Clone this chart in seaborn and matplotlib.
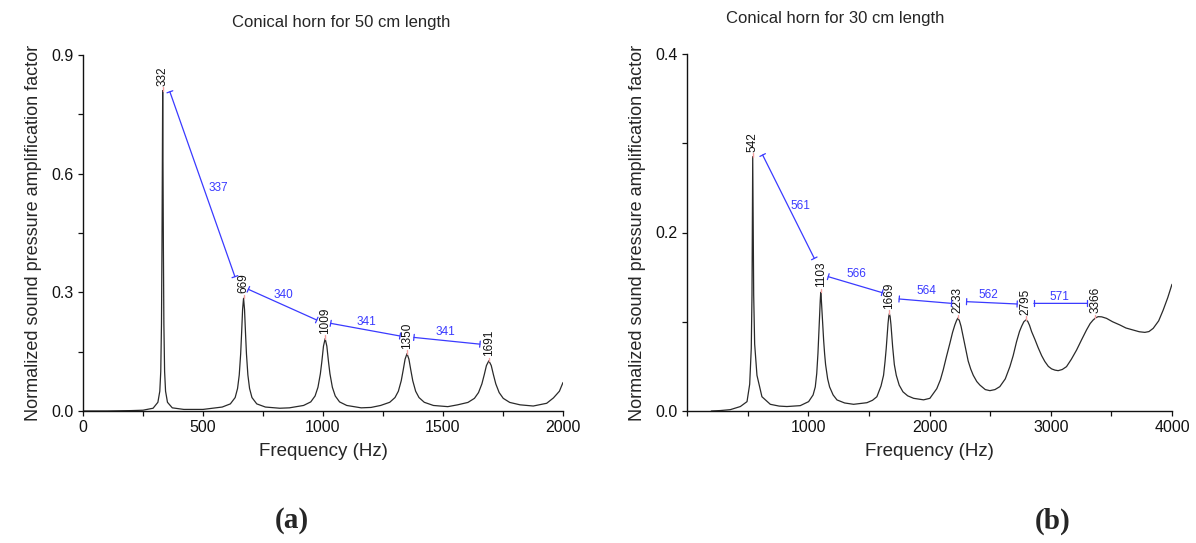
import numpy as np
import matplotlib
matplotlib.use("Agg")
import matplotlib.pyplot as plt
import seaborn as sns
import pandas as pd

# ---------------- data ----------------
# (a) conical horn 50 cm
freq_a = [0, 100, 200, 250, 292, 312, 320, 324, 327, 329, 330.5, 332, 333.5, 335, 337, 340, 344, 352,
          372, 420, 500, 580, 614, 634, 644, 651, 657, 661, 665, 669, 673, 677, 681, 687, 694, 704,
          724, 760, 820, 860, 919, 949, 967, 979, 989, 995, 1002, 1009, 1016, 1023, 1029, 1039, 1051,
          1069, 1099, 1159, 1200, 1240, 1278, 1300, 1314, 1326, 1334, 1342, 1350, 1358, 1366, 1374,
          1386, 1400, 1422, 1460, 1520, 1561, 1604, 1631, 1648, 1662, 1672, 1681, 1691, 1701, 1710,
          1720, 1734, 1751, 1778, 1821, 1876, 1932, 1960, 1985, 2000]
amp_a = [0.0, 0.0, 0.001, 0.002, 0.007, 0.022, 0.05, 0.10, 0.22, 0.41, 0.60, 0.81, 0.60, 0.41, 0.22, 0.10,
         0.05, 0.022, 0.008, 0.004, 0.004, 0.010, 0.018, 0.034, 0.057, 0.091, 0.145, 0.199, 0.257, 0.285,
         0.257, 0.199, 0.145, 0.091, 0.057, 0.034, 0.018, 0.010, 0.007, 0.008, 0.014, 0.023, 0.038, 0.060,
         0.094, 0.124, 0.164, 0.183, 0.164, 0.124, 0.094, 0.060, 0.038, 0.023, 0.014, 0.008, 0.009, 0.014,
         0.022, 0.034, 0.050, 0.0765, 0.103, 0.131, 0.145, 0.131, 0.103, 0.0765, 0.050, 0.034, 0.022,
         0.014, 0.011, 0.0156, 0.0217, 0.032, 0.0466, 0.0685, 0.092, 0.115, 0.127, 0.115, 0.092, 0.0685,
         0.0466, 0.032, 0.0217, 0.0156, 0.0126, 0.0195, 0.033, 0.050, 0.072]

peaks_a = [332, 669, 1009, 1350, 1691]
peak_amp_a = [0.81, 0.285, 0.183, 0.145, 0.127]
gaps_a = ["337", "340", "341", "341"]
gap_start_a = [(362, 0.807), (689, 0.3076), (1032, 0.2216), (1379, 0.186)]
gap_end_a = [(633, 0.3396), (974, 0.230), (1321, 0.1896), (1654, 0.169)]
gap_label_a = [(562, 0.564), (835, 0.293), (1182, 0.2258), (1508, 0.200)]

# (b) conical horn 30 cm
freq_b = [200, 275, 357, 440, 495, 517, 530, 536, 540, 542, 545, 550, 558, 577, 618, 687, 760, 824, 934,
          1003, 1040, 1058, 1070, 1080, 1088, 1094, 1099, 1103, 1107, 1112, 1119, 1127, 1135, 1143, 1160,
          1176, 1205, 1237, 1300, 1374, 1484, 1530, 1566, 1600, 1621, 1633, 1643, 1651, 1658, 1664, 1669,
          1675, 1682, 1689, 1696, 1710, 1726, 1750, 1781, 1820, 1869, 1951, 2003, 2060, 2090, 2113, 2140,
          2168, 2190, 2209, 2222, 2233, 2246, 2260, 2278, 2300, 2319, 2340, 2361, 2390, 2416, 2460, 2498,
          2540, 2580, 2625, 2663, 2690, 2718, 2742, 2760, 2778, 2795, 2810, 2825, 2842, 2870, 2896, 2925,
          2951, 2980, 3007, 3035, 3061, 3095, 3130, 3170, 3213, 3255, 3295, 3325, 3350, 3372, 3391, 3420,
          3460, 3510, 3570, 3620, 3679, 3730, 3776, 3810, 3845, 3890, 3927, 3965, 4000]
amp_b = [0.0, 0.0005, 0.0015, 0.005, 0.0105, 0.03, 0.07, 0.13, 0.22, 0.285, 0.22, 0.13, 0.075, 0.04,
         0.016, 0.0075, 0.0055, 0.005, 0.006, 0.0105, 0.018, 0.027, 0.042, 0.0645, 0.088, 0.108, 0.124,
         0.133, 0.127, 0.115, 0.097, 0.079, 0.064, 0.052, 0.036, 0.027, 0.018, 0.0124, 0.009, 0.0075,
         0.0093, 0.012, 0.016, 0.028, 0.040, 0.055, 0.070, 0.085, 0.098, 0.106, 0.109, 0.106, 0.097,
         0.085, 0.072, 0.052, 0.040, 0.029, 0.0215, 0.017, 0.0142, 0.0125, 0.0142, 0.025, 0.035, 0.046,
         0.061, 0.0758, 0.088, 0.0964, 0.101, 0.104, 0.1015, 0.095, 0.083, 0.068, 0.056, 0.047, 0.040,
         0.033, 0.029, 0.024, 0.0228, 0.024, 0.0273, 0.036, 0.0497, 0.062, 0.0777, 0.089, 0.095, 0.100,
         0.102, 0.1005, 0.096, 0.089, 0.080, 0.071, 0.062, 0.0555, 0.050, 0.0472, 0.0458, 0.0452, 0.0465,
         0.0497, 0.058, 0.0683, 0.080, 0.0908, 0.098, 0.102, 0.1045, 0.1057, 0.1055, 0.1038, 0.100,
         0.0964, 0.093, 0.0908, 0.0888, 0.0881, 0.089, 0.0926, 0.101, 0.113, 0.127, 0.142]

peaks_b = [542, 1103, 1669, 2233, 2795, 3366]
peak_amp_b = [0.285, 0.133, 0.109, 0.104, 0.102, 0.104]
gaps_b = ["561", "566", "564", "562", "571"]
gap_start_b = [(624, 0.2868), (1165, 0.1505), (1750, 0.1255), (2306, 0.1225), (2861, 0.1206)]
gap_end_b = [(1050, 0.171), (1610, 0.1326), (2182, 0.1206), (2723, 0.1199), (3303, 0.1206)]
gap_label_b = [(932, 0.2297), (1399, 0.1535), (1976, 0.1345), (2484, 0.130), (3069, 0.128)]

# ---------------- style ----------------
sns.set_style("ticks")
plt.rcParams['font.family'] = ['Liberation Sans', 'DejaVu Sans']

W, H = 1196, 543
fig = plt.figure(figsize=(W / 100, H / 100), dpi=100)

def px_ax(x0, y0, x1, y1):
    return fig.add_axes([x0 / W, 1 - y1 / H, (x1 - x0) / W, (y1 - y0) / H])

ax_a = px_ax(83, 55, 563, 411)
ax_b = px_ax(687, 54, 1172, 411)

BLUE = "#3a3aff"
PINK = "#f2a0a0"

def draw(ax, fr, am, peaks, pamp, gaps, gs, ge, gl, ymax, dy):
    df = pd.DataFrame({"f": fr, "a": am})
    sns.lineplot(data=df, x="f", y="a", ax=ax, color="#2a2a2a", lw=0.9,
                 estimator=None, sort=False)
    for p, a in zip(peaks, pamp):
        ax.plot([p, p], [a, a + dy], color=PINK, lw=1.0, zorder=3)
        ax.annotate(str(p), (p, a), xytext=(0, 3.5), textcoords="offset points",
                    rotation=90, ha="center", va="bottom", fontsize=8.5, color="#111")
    for g, s, e, l in zip(gaps, gs, ge, gl):
        ax.annotate("", xy=e, xytext=s,
                    arrowprops=dict(arrowstyle="|-|,widthA=0.22,widthB=0.22",
                                    color=BLUE, lw=0.9, shrinkA=0, shrinkB=0))
        ax.text(l[0], l[1], g, color=BLUE, fontsize=8.5, ha="center", va="center")
    sns.despine(ax=ax)
    for sp in ("left", "bottom"):
        ax.spines[sp].set_linewidth(1.0)
        ax.spines[sp].set_color("#111")
    ax.tick_params(direction="out", length=3.5, width=0.9, labelsize=11.5, colors="#111", pad=3)
    ax.set_ylim(0, ymax)
    ax.set_xlabel("Frequency (Hz)", fontsize=13.5, labelpad=6)
    ax.set_ylabel("Normalized sound pressure amplification factor", fontsize=13, labelpad=7)

draw(ax_a, freq_a, amp_a, peaks_a, peak_amp_a, gaps_a, gap_start_a, gap_end_a, gap_label_a, 0.9, 0.008)
draw(ax_b, freq_b, amp_b, peaks_b, peak_amp_b, gaps_b, gap_start_b, gap_end_b, gap_label_b, 0.4, 0.004)

ax_a.set_xlim(0, 2000)
xt = np.arange(0, 2001, 250)
ax_a.set_xticks(xt, [str(int(v)) if v % 500 == 0 else "" for v in xt])
yt = np.round(np.arange(0, 0.91, 0.15), 2)
ax_a.set_yticks(yt, [f"{v:.1f}" if abs(v / 0.3 - round(v / 0.3)) < 1e-6 else "" for v in yt])

ax_b.set_xlim(0, 4000)
xt = np.arange(0, 4001, 500)
ax_b.set_xticks(xt, [str(int(v)) if (v % 1000 == 0 and v > 0) else "" for v in xt])
yt = np.round(np.arange(0, 0.41, 0.1), 1)
ax_b.set_yticks(yt, [f"{v:.1f}" if round(v * 10) % 2 == 0 else "" for v in yt])

fig.text(341 / W, 1 - 22 / H, "Conical horn for 50 cm length", ha="center", va="center", fontsize=12)
fig.text(835 / W, 1 - 18 / H, "Conical horn for 30 cm length", ha="center", va="center", fontsize=12)
fig.text(292 / W, 1 - 521 / H, "(a)", ha="center", va="center", fontsize=21, fontweight="bold",
         family="Liberation Serif")
fig.text(1053 / W, 1 - 521 / H, "(b)", ha="center", va="center", fontsize=21, fontweight="bold",
         family="Liberation Serif")

fig.savefig("out.png", dpi=100)
